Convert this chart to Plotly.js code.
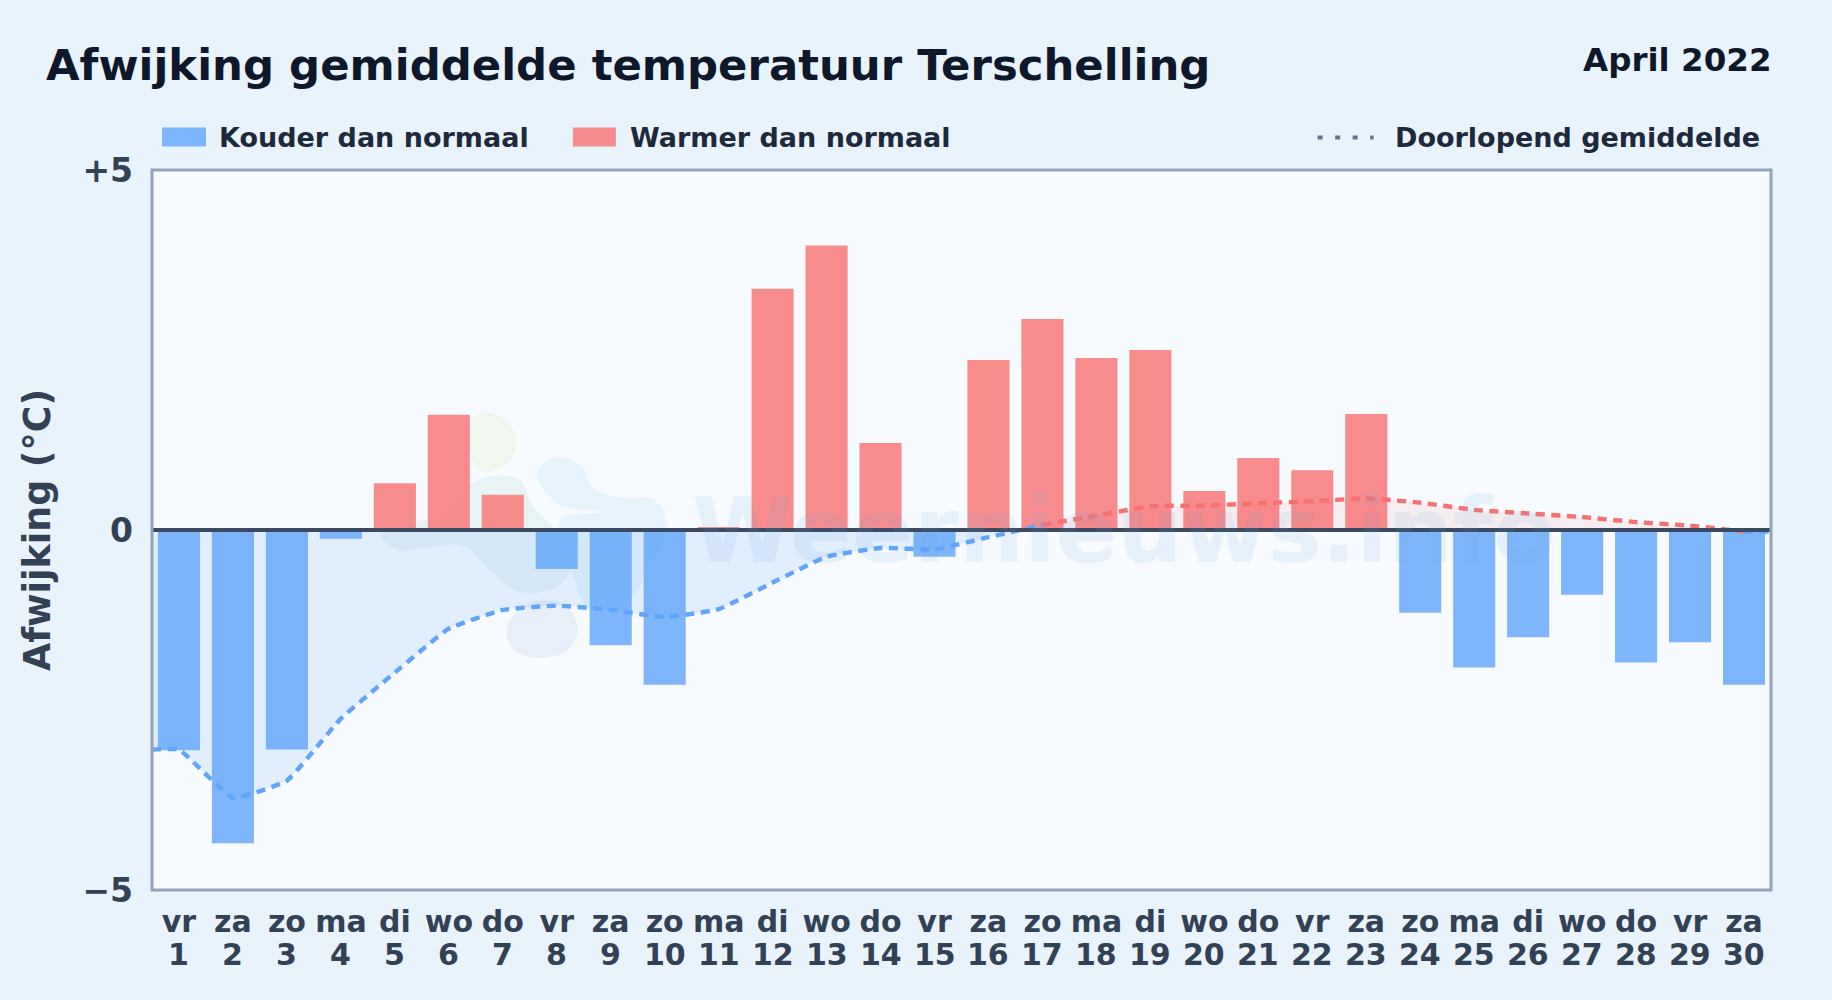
<!DOCTYPE html>
<html><head><meta charset="utf-8">
<script src="https://cdn.plot.ly/plotly-3.0.1.min.js"></script>
<style>html,body{margin:0;padding:0;background:#e8f3fc;}#c{width:1832px;height:1000px;}</style>
</head><body><div id="c"></div>
<script>
const days=[1,2,3,4,5,6,7,8,9,10,11,12,13,14,15,16,17,18,19,20,21,22,23,24,25,26,27,28,29,30];
const weekdays=['vr','za','zo','ma','di','wo','do','vr','za','zo','ma','di','wo','do','vr','za','zo','ma','di','wo','do','vr','za','zo','ma','di','wo','do','vr','za'];
const anomaly=[-3.06,-4.35,-3.05,-0.12,0.65,1.6,0.49,-0.54,-1.6,-2.15,0.04,3.35,3.95,1.21,-0.37,2.36,2.93,2.39,2.5,0.54,1.0,0.83,1.61,-1.15,-1.91,-1.49,-0.9,-1.84,-1.56,-2.15];
const coldX=[0.5,1,2,3,4,5,6,7,8,9,10,11,12,13,14,15,16,17];
const coldRunning=[-3.05,-3.05,-3.72,-3.48,-2.62,-1.98,-1.37,-1.11,-1.05,-1.11,-1.21,-1.10,-0.73,-0.37,-0.25,-0.27,-0.10,0.07];
const warmX=[17,18,19,20,21,22,23,24,25,26,27,28,29,30];
const warmRunning=[0.07,0.20,0.33,0.34,0.37,0.40,0.44,0.38,0.28,0.23,0.18,0.11,0.06,-0.02];
const tailX=[30,30.5];
const tailRunning=[-0.02,-0.02];
const zeroX=[0.5,30.5];
const zeroY=[0,0];
const yTickVals=[-5,0,5];
const yTickText=['−5','0','+5'];

const FONT='"DejaVu Sans", sans-serif';
const W=1832,H=1000,L=152,R=60.5,T=169.5,B=109.5;
const BLUE='#60a5fa',RED='#f87171';
// "paper" coordinates run over the plot area; these convert page pixels to them
const px=x=>(x-L)/(W-L-R), py=y=>1-(y-T)/(H-T-B);
const P=(x,y)=>px(x).toFixed(4)+','+py(y).toFixed(4);
function blob(pts,fill){ // closed smooth outline of the watermark logo
  let d='M'+P(pts[0][0],pts[0][1]);
  const n=pts.length;
  for(let i=0;i<n;i++){
    const p0=pts[(i-1+n)%n],p1=pts[i],p2=pts[(i+1)%n],p3=pts[(i+2)%n];
    const c1=[p1[0]+(p2[0]-p0[0])/6,p1[1]+(p2[1]-p0[1])/6];
    const c2=[p2[0]-(p3[0]-p1[0])/6,p2[1]-(p3[1]-p1[1])/6];
    d+=' C'+P(c1[0],c1[1])+' '+P(c2[0],c2[1])+' '+P(p2[0],p2[1]);
  }
  return {type:'path',xref:'paper',yref:'paper',layer:'below',path:d+' Z',fillcolor:fill,line:{width:0}};
}
const shapes=[
 blob([[470,420],[490,413],[510,424],[517,445],[505,465],[480,472],[470,450]],'rgba(225,240,200,0.30)'),
 blob([[463,490],[490,476],[520,480],[532,505],[550,525],[575,550],[560,585],[520,592],[490,570],[460,545],[400,550],[383,530],[440,515]],'rgba(200,225,225,0.30)'),
 blob([[537,475],[555,457],[580,465],[595,490],[625,498],[655,500],[668,530],[650,565],[630,600],[590,610],[570,565],[560,520],[600,512],[560,505]],'rgba(190,225,250,0.28)'),
 blob([[508,625],[530,602],[565,605],[578,630],[565,652],[535,658],[512,648]],'rgba(190,210,230,0.28)'),
 {type:'rect',xref:'paper',yref:'paper',x0:0,x1:1,y0:0,y1:1,fillcolor:'rgba(0,0,0,0)',line:{color:'#94a3b8',width:3}},
 {type:'rect',xref:'paper',yref:'paper',x0:px(162),x1:px(206),y0:py(146),y1:py(127),fillcolor:'rgba(96,165,250,0.8)',line:{width:0}},
 {type:'rect',xref:'paper',yref:'paper',x0:px(573),x1:px(616),y0:py(146),y1:py(127),fillcolor:'rgba(248,113,113,0.8)',line:{width:0}},
 {type:'line',xref:'paper',yref:'paper',x0:px(1318),x1:px(1374),y0:py(137),y1:py(137),line:{color:'#64748b',width:4,dash:'5px,12.5px'}}
];
function txt(text,x,y,size,color,xanchor){
  return {text:text,xref:'paper',yref:'paper',x:px(x),y:py(y),xanchor:xanchor||'left',yanchor:'middle',showarrow:false,
          font:{family:FONT,size:size,color:color,weight:700},borderpad:0,borderwidth:0};
}
const annotations=[
 {text:'Weernieuws.info',xref:'paper',yref:'paper',x:px(1124.5),y:py(530),xanchor:'center',yanchor:'middle',showarrow:false,
  font:{family:FONT,size:91.5,color:'rgba(110,160,215,0.11)',weight:700}},
 txt('April 2022',1773,59,32.5,'#0f172a','right'),
 txt('Kouder dan normaal',219,137,27,'#1e293b'),
 txt('Warmer dan normaal',630,137,27,'#1e293b'),
 txt('Doorlopend gemiddelde',1395,137,27,'#1e293b')
];
days.forEach((d)=>{
  annotations.push({text:String(d),xref:'x',yref:'paper',x:d,y:py(955),xanchor:'center',yanchor:'middle',showarrow:false,
    font:{family:FONT,size:30,color:'#334155',weight:700}});
});
const hidden={showlegend:false,hoverinfo:'skip'};
const traces=[
 Object.assign({type:'bar',x:days,y:anomaly,width:0.78,name:'Afwijking',
   marker:{color:anomaly.map(v=>v<0?'rgba(96,165,250,0.8)':'rgba(248,113,113,0.8)'),line:{width:0}}},{showlegend:false}),
 Object.assign({type:'scatter',mode:'lines',x:coldX,y:coldRunning,name:'Doorlopend gemiddelde',fill:'tozeroy',fillcolor:'rgba(96,165,250,0.15)',
   line:{color:BLUE,width:4.4,dash:'9px,6.5px',shape:'spline',smoothing:0.35}},hidden),
 Object.assign({type:'scatter',mode:'lines',x:warmX,y:warmRunning,name:'Doorlopend gemiddelde (warm)',fill:'tozeroy',fillcolor:'rgba(248,113,113,0.10)',
   line:{color:RED,width:4.4,dash:'9px,6.5px',shape:'spline',smoothing:0.35}},hidden),
 Object.assign({type:'scatter',mode:'lines',x:tailX,y:tailRunning,name:'Doorlopend gemiddelde (eind)',
   line:{color:BLUE,width:4.4,dash:'9px,6.5px'}},hidden),
 Object.assign({type:'scatter',mode:'lines',x:zeroX,y:zeroY,name:'Nul',line:{color:'#3b4a60',width:4}},hidden)
];
const layout={
 width:W,height:H,margin:{l:L,r:R,t:T,b:B,pad:0,autoexpand:false},
 paper_bgcolor:'#e8f3fc',plot_bgcolor:'#f7fbff',showlegend:false,bargap:0.22,
 font:{family:FONT,color:'#334155'},
 title:{text:'Afwijking gemiddelde temperatuur Terschelling',x:46/W,xanchor:'left',xref:'container',yref:'container',y:1-64.5/H,yanchor:'middle',
        font:{family:FONT,size:43.4,color:'#0f172a',weight:700}},
 xaxis:{range:[0.5,30.5],tickmode:'array',tickvals:days,ticktext:weekdays,ticks:'',showgrid:false,zeroline:false,tickangle:0,
        showline:false,ticklabelstandoff:11,fixedrange:true,
        tickfont:{family:FONT,size:30,color:'#334155',weight:700}},
 yaxis:{range:[-5,5],tickmode:'array',tickvals:yTickVals,ticktext:yTickText,ticks:'',showgrid:false,zeroline:false,
        showline:false,ticklabelstandoff:18,fixedrange:true,
        tickfont:{family:FONT,size:33,color:'#334155',weight:700},
        title:{text:'Afwijking (°C)',standoff:20,font:{family:FONT,size:36.4,color:'#334155',weight:700}}},
 shapes:shapes,annotations:annotations
};
Plotly.newPlot('c',traces,layout,{displayModeBar:false,staticPlot:true});
</script></body></html>
